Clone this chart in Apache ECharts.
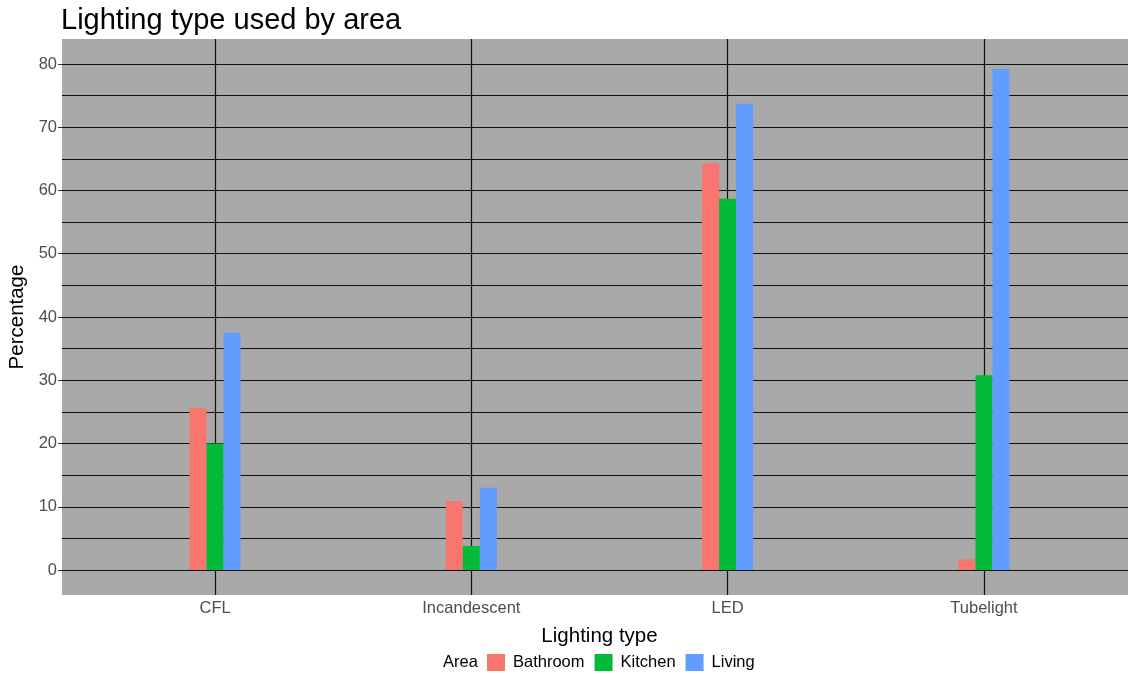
<!DOCTYPE html>
<html><head><meta charset="utf-8">
<script src="https://cdn.jsdelivr.net/npm/echarts@6/dist/echarts.min.js"></script>
<style>html,body{margin:0;padding:0;background:#fff}#c{width:1128px;height:674px}</style>
</head><body><div id="c"></div>
<script>
const categories = ['CFL', 'Incandescent', 'LED', 'Tubelight'];
const bathroom = [25.6, 10.9, 64.3, 1.7];
const kitchen = [20.0, 3.8, 58.7, 30.8];
const living = [37.5, 13.0, 73.7, 79.2];
const yTicks = [0, 10, 20, 30, 40, 50, 60, 70, 80];
const yGridLines = [0, 5, 10, 15, 20, 25, 30, 35, 40, 45, 50, 55, 60, 65, 70, 75, 80];
const yMin = -3.95, yMax = 83.95;

const FONT = '"Liberation Sans", Arial, sans-serif';
const chart = echarts.init(document.getElementById('c'), null, {renderer: 'canvas'});

const barBase = {type: 'bar', xAxisIndex: 1, yAxisIndex: 1, barWidth: 17, barGap: '0%', z: 5, silent: true};

chart.setOption({
  animation: false,
  textStyle: {fontFamily: FONT},
  title: [
    {text: 'Lighting type used by area', left: 61, top: 6, padding: 0, textStyle: {fontFamily: FONT, fontSize: 29, fontWeight: 'normal', color: '#000'}},
    {text: 'Area', left: 443, top: 654, padding: 0, textStyle: {fontFamily: FONT, fontSize: 16.5, fontWeight: 'normal', color: '#000'}}
  ],
  grid: [
    {left: 62, right: 0, top: 39, bottom: 79, show: true, backgroundColor: '#A9A9A9', borderWidth: 0, outerBoundsMode: 'none', containLabel: false},
    {left: 86.9, right: 15.9, top: 39, bottom: 79, show: false, outerBoundsMode: 'none', containLabel: false}
  ],
  xAxis: [
    {gridIndex: 0, type: 'value', min: 0, max: 1, show: false},
    {gridIndex: 1, type: 'category', data: categories, boundaryGap: true,
     axisLine: {show: false},
     axisTick: {show: true, alignWithLabel: true, length: 4, lineStyle: {color: '#333'}},
     axisLabel: {color: '#4d4d4d', fontSize: 16.5, margin: 5, fontFamily: FONT},
     splitLine: {show: false},
     name: 'Lighting type', nameLocation: 'middle', nameGap: 31,
     nameTextStyle: {color: '#000', fontSize: 20.5, fontFamily: FONT}},
  ],
  yAxis: [
    {gridIndex: 0, type: 'value', min: yMin, max: yMax,
     axisLine: {show: false},
     axisTick: {show: true, length: 4, customValues: yTicks, lineStyle: {color: '#333'}},
     axisLabel: {color: '#4d4d4d', fontSize: 16.5, margin: 5, customValues: yTicks, fontFamily: FONT},
     splitLine: {show: false},
     name: 'Percentage', nameLocation: 'middle', nameGap: 30, nameRotate: 90,
     nameTextStyle: {color: '#000', fontSize: 20.5, fontFamily: FONT}},
    {gridIndex: 1, type: 'value', min: yMin, max: yMax, show: false, splitLine: {show: false}}
  ],
  legend: {
    left: 487, top: 654, padding: 0, itemWidth: 18, itemHeight: 17, itemGap: 10, icon: 'rect',
    textStyle: {fontSize: 16.5, color: '#000', fontFamily: FONT, padding: [0, 0, 0, 3]},
    data: ['Bathroom', 'Kitchen', 'Living']
  },
  series: [
    {type: 'line', name: 'hgrid', xAxisIndex: 0, yAxisIndex: 0, data: [], silent: true, z: 1,
     markLine: {silent: true, symbol: 'none', label: {show: false}, animation: false,
       lineStyle: {color: '#111', width: 1.2, type: 'solid'},
       data: yGridLines.map(v => ({yAxis: v}))}},
    {type: 'line', name: 'vgrid', xAxisIndex: 1, yAxisIndex: 1, data: categories.map(() => '-'), silent: true, z: 1,
     markLine: {silent: true, symbol: 'none', label: {show: false}, animation: false,
       lineStyle: {color: '#111', width: 1.2, type: 'solid'},
       data: categories.map(c => ({xAxis: c}))}},
    Object.assign({name: 'Bathroom', data: bathroom, itemStyle: {color: '#F8766D'}}, barBase),
    Object.assign({name: 'Kitchen', data: kitchen, itemStyle: {color: '#00BA38'}}, barBase),
    Object.assign({name: 'Living', data: living, itemStyle: {color: '#619CFF'}}, barBase)
  ]
});
</script>
</body></html>
